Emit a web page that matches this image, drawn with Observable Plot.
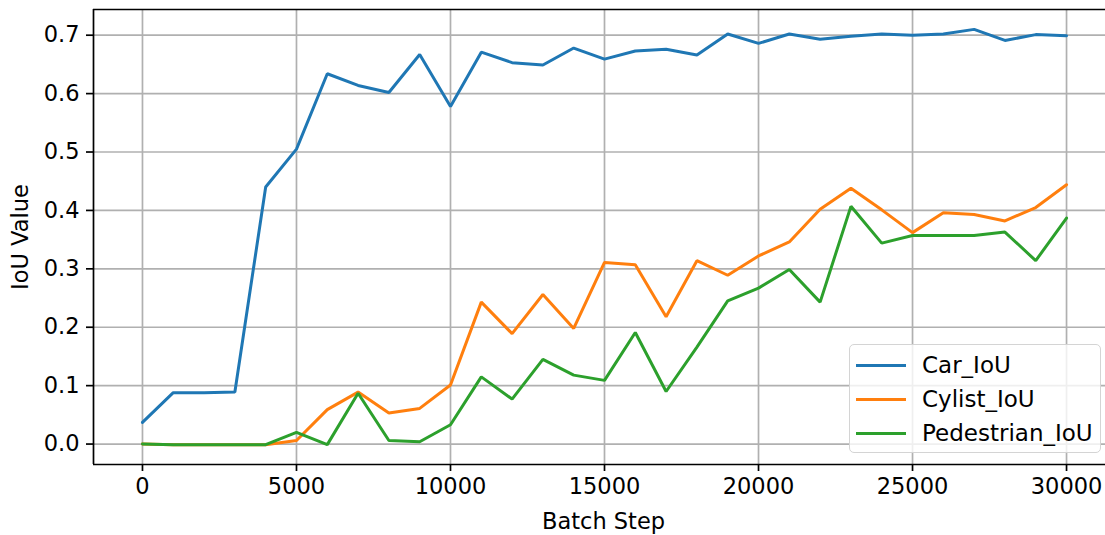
<!DOCTYPE html>
<html>
<head>
<meta charset="utf-8">
<script src="https://cdn.jsdelivr.net/npm/d3@7"></script>
<script src="https://cdn.jsdelivr.net/npm/@observablehq/plot@0.6"></script>
<style>
  body { margin: 0; background: #fff; }
  #chart { position: relative; width: 1105px; height: 535px; font-family: "DejaVu Sans", sans-serif; }
  #chart svg { display: block; }
  .legend {
    position: absolute; left: 849px; top: 344px; width: 252px; height: 109px;
    box-sizing: border-box; border: 1.3px solid #d4d4d4; border-radius: 5px;
    background: rgba(255, 255, 255, 0.8); font-size: 23px; color: #000;
  }
  .legend .row { position: absolute; left: 0; height: 0; }
  .legend .swatch { position: absolute; left: 6px; width: 50px; height: 3px; top: -1.5px; }
  .legend .label { position: absolute; left: 72px; top: -14px; white-space: nowrap; line-height: 28px; }
</style>
</head>
<body>
<div id="chart"></div>
<script>
// Training steps (x) and the IoU recorded for each class at those steps
const steps = [0, 1000, 2000, 3000, 4000, 5000, 6000, 7000, 8000, 9000, 10000,
  11000, 12000, 13000, 14000, 15000, 16000, 17000, 18000, 19000, 20000,
  21000, 22000, 23000, 24000, 25000, 26000, 27000, 28000, 29000, 30000];

const carIoU = [0.037, 0.088, 0.088, 0.089, 0.440, 0.505, 0.634, 0.614, 0.602, 0.667, 0.578,
  0.671, 0.653, 0.649, 0.678, 0.659, 0.673, 0.676, 0.666, 0.702, 0.686,
  0.702, 0.693, 0.698, 0.702, 0.700, 0.702, 0.710, 0.691, 0.701, 0.699];

const cyclistIoU = [0.000, -0.001, -0.001, -0.001, -0.001, 0.006, 0.059, 0.089, 0.053, 0.061, 0.101,
  0.243, 0.189, 0.256, 0.198, 0.311, 0.307, 0.218, 0.314, 0.289, 0.322,
  0.346, 0.402, 0.438, 0.401, 0.362, 0.396, 0.393, 0.382, 0.405, 0.444];

const pedestrianIoU = [0.000, -0.001, -0.001, -0.001, -0.001, 0.020, -0.001, 0.087, 0.006, 0.004, 0.033,
  0.115, 0.077, 0.145, 0.118, 0.109, 0.191, 0.090, 0.166, 0.245, 0.267,
  0.299, 0.243, 0.407, 0.344, 0.357, 0.357, 0.357, 0.363, 0.314, 0.387];

const seriesNames = ["Car_IoU", "Cylist_IoU", "Pedestrian_IoU"];
const seriesColors = ["#1f77b4", "#ff7f0e", "#2ca02c"];

const xTicks = [0, 5000, 10000, 15000, 20000, 25000, 30000];
const yTicks = [0.0, 0.1, 0.2, 0.3, 0.4, 0.5, 0.6, 0.7];
const xDomain = [-1590, 31265];
const yDomain = [-0.035, 0.744];
const xLabel = "Batch Step";
const yLabel = "IoU Value";

// long-format table for the line mark
const seriesValues = [carIoU, cyclistIoU, pedestrianIoU];
const rows = [];
seriesNames.forEach((name, i) => {
  steps.forEach((s, j) => rows.push({ step: s, value: seriesValues[i][j], series: name }));
});

const fontSize = 22.5;

const chart = Plot.plot({
  width: 1105,
  height: 535,
  marginLeft: 93,
  marginRight: 0,
  marginTop: 9,
  marginBottom: 71,
  style: { fontFamily: "DejaVu Sans, sans-serif", fontSize: fontSize + "px", color: "#000", background: "#fff" },
  x: { domain: xDomain },
  y: { domain: yDomain },
  color: { domain: seriesNames, range: seriesColors },
  marks: [
    Plot.gridX(xTicks, { stroke: "#b0b0b0", strokeOpacity: 1, strokeWidth: 1.7 }),
    Plot.gridY(yTicks, { stroke: "#b0b0b0", strokeOpacity: 1, strokeWidth: 1.7 }),
    Plot.line(rows, { x: "step", y: "value", z: "series", stroke: "series", strokeWidth: 3, strokeLinejoin: "miter" }),
    // axis spines
    Plot.ruleX([xDomain[0]], { stroke: "#000", strokeWidth: 1.7 }),
    Plot.ruleY([yDomain[0], yDomain[1]], { stroke: "#000", strokeWidth: 1.7 }),
    Plot.axisX(xTicks, { tickSize: 7, tickPadding: 7, tickFormat: d => String(d), fontSize, stroke: "#000", strokeWidth: 1.7, label: null }),
    Plot.axisY(yTicks, { tickSize: 7, tickPadding: 7, tickFormat: d => d.toFixed(1), fontSize, stroke: "#000", strokeWidth: 1.7, label: null }),
    Plot.text([xLabel], { frameAnchor: "bottom", textAnchor: "middle", dx: 4, dy: 64, fontSize, fill: "#000" }),
    Plot.text([yLabel], { frameAnchor: "left", textAnchor: "middle", dx: -73, rotate: -90, fontSize, fill: "#000" })
  ]
});

const root = document.getElementById("chart");
root.appendChild(chart);

// legend box in the lower right of the axes
const legend = document.createElement("div");
legend.className = "legend";
seriesNames.forEach((name, i) => {
  const row = document.createElement("div");
  row.className = "row";
  row.style.top = (20 + i * 34) + "px";
  const sw = document.createElement("div");
  sw.className = "swatch";
  sw.style.background = seriesColors[i];
  const lb = document.createElement("div");
  lb.className = "label";
  lb.textContent = name;
  row.appendChild(sw);
  row.appendChild(lb);
  legend.appendChild(row);
});
root.appendChild(legend);
</script>
</body>
</html>
